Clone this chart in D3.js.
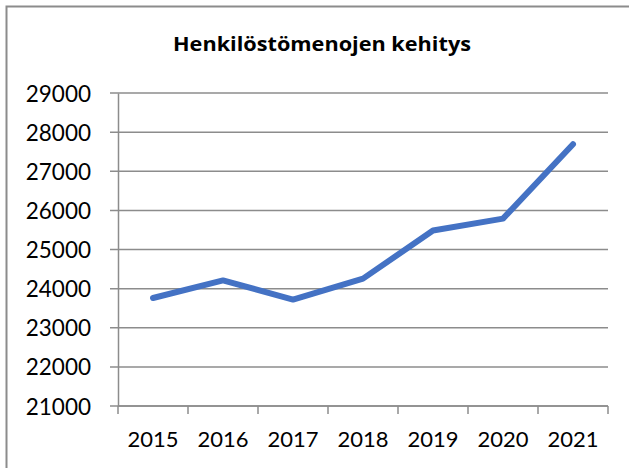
<!DOCTYPE html>
<html>
<head>
<meta charset="utf-8">
<script src="https://cdn.jsdelivr.net/npm/d3@7"></script>
<style>
  html, body { margin: 0; padding: 0; background: #fff; }
  svg { display: block; }
</style>
</head>
<body>
<svg id="chart" width="629" height="468"></svg>
<script>
const title = "Henkilöstömenojen kehitys";
const years = ["2015", "2016", "2017", "2018", "2019", "2020", "2021"];
const costs = [23760, 24210, 23720, 24255, 25485, 25790, 27690];
const yTicks = [21000, 22000, 23000, 24000, 25000, 26000, 27000, 28000, 29000];

const svg = d3.select("#chart");
const width = +svg.attr("width");
const height = +svg.attr("height");
const margin = { top: 93, right: 21, bottom: 62, left: 118 };
const font = "Lato, 'Open Sans', sans-serif";

// outer frame (only left and top edges visible in the crop)
svg.append("path")
  .attr("d", `M6.5,${height} V6.5 H${width}`)
  .attr("fill", "none")
  .attr("stroke", "#8c8c8c")
  .attr("stroke-width", 2);

const x = d3.scaleBand()
  .domain(years)
  .range([margin.left, width - margin.right]);

const y = d3.scaleLinear()
  .domain([21000, 29000])
  .range([height - margin.bottom, margin.top]);

// gridlines
svg.append("g")
  .selectAll("line")
  .data(yTicks)
  .enter()
  .append("line")
  .attr("x1", margin.left - 8)
  .attr("x2", width - margin.right)
  .attr("y1", d => y(d))
  .attr("y2", d => y(d))
  .attr("stroke", "#8c8c8c")
  .attr("stroke-width", 1.5);

// y axis
const yAxis = svg.append("g")
  .attr("transform", `translate(${margin.left}, 0)`)
  .call(d3.axisLeft(y).tickValues(yTicks).tickSize(0).tickPadding(27).tickFormat(d3.format("d")));
yAxis.select(".domain").attr("stroke", "#8c8c8c").attr("stroke-width", 1.5);
yAxis.selectAll("text")
  .attr("font-family", font)
  .attr("font-size", "22.5px")
  .attr("fill", "#000")
  .attr("dy", "0.36em");

// x axis with ticks on category boundaries
const xAxis = svg.append("g")
  .attr("transform", `translate(0, ${y(21000)})`);
xAxis.append("line")
  .attr("x1", margin.left)
  .attr("x2", width - margin.right)
  .attr("stroke", "#8c8c8c")
  .attr("stroke-width", 1.5);
const bounds = years.map(d => x(d)).concat([x.range()[1]]);
xAxis.selectAll(".tick")
  .data(bounds)
  .enter()
  .append("line")
  .attr("x1", d => d)
  .attr("x2", d => d)
  .attr("y1", 0)
  .attr("y2", 8)
  .attr("stroke", "#8c8c8c")
  .attr("stroke-width", 1.5);
xAxis.selectAll(".label")
  .data(years)
  .enter()
  .append("text")
  .attr("x", d => x(d) + x.bandwidth() / 2)
  .attr("y", 41)
  .attr("text-anchor", "middle")
  .attr("font-family", font)
  .attr("font-size", "22px")
  .attr("fill", "#000")
  .text(d => d);

// line
const line = d3.line()
  .x((d, i) => x(years[i]) + x.bandwidth() / 2)
  .y(d => y(d));

svg.append("path")
  .datum(costs)
  .attr("d", line)
  .attr("fill", "none")
  .attr("stroke", "#4472c4")
  .attr("stroke-width", 6)
  .attr("stroke-linecap", "round")
  .attr("stroke-linejoin", "round");

// title
svg.append("text")
  .attr("x", 322)
  .attr("y", 51)
  .attr("text-anchor", "middle")
  .attr("font-family", "'Open Sans', Lato, sans-serif")
  .attr("font-size", "20px")
  .attr("font-weight", "bold")
  .attr("textLength", 298)
  .attr("lengthAdjust", "spacingAndGlyphs")
  .attr("fill", "#000")
  .text(title);
</script>
</body>
</html>
